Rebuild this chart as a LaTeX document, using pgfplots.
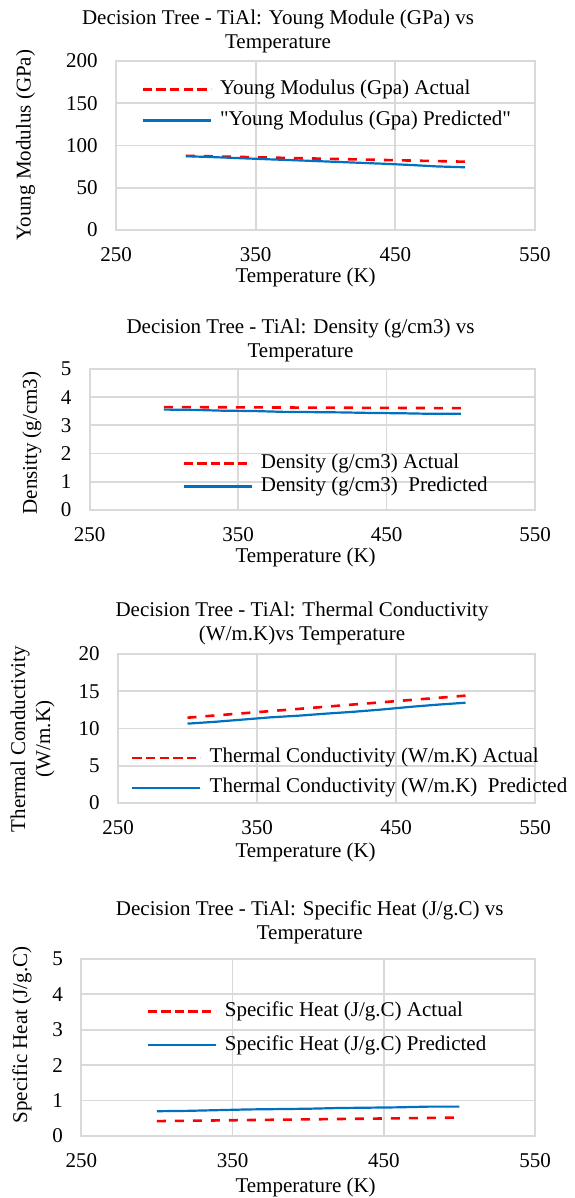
\documentclass[border=0pt]{standalone}
\usepackage{fontspec}
\setmainfont{Liberation Serif}[Ligatures=TeXOff]
\usepackage{pgfplots}
\pgfplotsset{compat=1.18}

\definecolor{xlred}{RGB}{255,0,0}
\definecolor{xlblue}{RGB}{0,112,192}
\definecolor{gridgray}{RGB}{217,217,217}

\newcommand{\chartfont}{\rmfamily\fontsize{10.5}{12}\selectfont}

\pgfplotsset{
  panel/.style={
    scale only axis,
    anchor=south west,
    xmin=250, xmax=550,
    xtick={250,350,450,550},
    ymin=0,
    grid=major,
    major grid style={gridgray, line width=0.9pt},
    axis line style={gridgray, line width=1pt},
    major tick length=0pt,
    tick style={draw=none},
    /pgf/number format/assume math mode=true,
    ticklabel style={font=\chartfont},
    xticklabel style={anchor=center, inner sep=0pt, yshift=-12.5pt},
    yticklabel style={anchor=east, inner sep=0pt, xshift=-9pt},
    scaled ticks=false,
    legend cell align=left,
    legend style={draw=none, fill=none, inner sep=0pt, anchor=north west,
      column sep=4pt, font=\chartfont,
      nodes={inner sep=0pt, text height=7.5pt, text depth=2.5pt}},
    legend image code/.code={\draw[#1] (0pt,0pt) -- (34pt,0pt);},
  },
  actual/.style={color=xlred, line width=1.3pt, dash pattern=on 4.5pt off 4.5pt, no markers,
    legend image post style={dash pattern=on 4.7pt off 2.1pt}},
  predicted/.style={color=xlblue, line width=1.1pt, no markers},
}

% Young modulus (GPa)
\pgfplotstableread{
T    act   pred
300  87.8  87.3
320  87.1  86.2
340  86.4  84.9
360  85.7  83.6
380  85.0  82.4
400  84.3  81.1
420  83.6  79.8
440  82.9  78.5
460  82.2  77.0
480  81.5  75.2
500  80.8  74.2
}\youngdata

% Density (g/cm3)
\pgfplotstableread{
T    act    pred
300  3.650  3.56
320  3.646  3.55
340  3.642  3.52
360  3.638  3.51
380  3.634  3.48
400  3.630  3.47
420  3.626  3.46
440  3.622  3.44
460  3.618  3.43
480  3.614  3.41
500  3.610  3.41
}\densitydata

% Thermal conductivity (W/m.K)
\pgfplotstableread{
T    act    pred
300  11.45  10.65
320  11.75  10.90
340  12.04  11.20
360  12.34  11.50
380  12.63  11.72
400  12.93  12.00
420  13.23  12.25
440  13.52  12.55
460  13.82  12.90
480  14.11  13.20
500  14.41  13.46
}\conddata

% Specific heat (J/g.C)
\pgfplotstableread{
T    act   pred
300  0.42  0.70
320  0.43  0.71
340  0.44  0.73
360  0.45  0.75
380  0.46  0.76
400  0.47  0.77
420  0.48  0.79
440  0.49  0.80
460  0.50  0.81
480  0.51  0.83
500  0.52  0.83
}\heatdata

\begin{document}
\begin{tikzpicture}[font=\chartfont]
\path[use as bounding box] (0,0) rectangle (287pt,599pt);

% ---- Young modulus ----
\begin{axis}[panel, at={(58pt,484pt)}, width=209.5pt, height=84.5pt,
  ymax=200, ytick={0,50,100,150,200},
  legend style={at={(0.0597,0.893)}, row sep=5.5pt}]
  \addplot[actual] table[x=T, y=act] {\youngdata};
  \addlegendentry{Young Modulus (Gpa) Actual}
  \addplot[predicted] table[x=T, y=pred] {\youngdata};
  \addlegendentry{"Young Modulus (Gpa) Predicted"}
\end{axis}
\node[align=center] at (139pt,583.5pt) {Decision Tree - TiAl: Young Module (GPa) vs\\Temperature};
\node at (152.8pt,460.5pt) {Temperature (K)};
\node[rotate=90] at (12.8pt,526.5pt) {Young Modulus (GPa)};

% ---- Density ----
\begin{axis}[panel, at={(44.85pt,344pt)}, width=222.65pt, height=70.5pt,
  ymax=5, ytick={0,1,2,3,4,5},
  legend style={at={(0.207,0.404)}, row sep=1.5pt}]
  \addplot[actual] table[x=T, y=act] {\densitydata};
  \addlegendentry{Density (g/cm3) Actual}
  \addplot[predicted] table[x=T, y=pred] {\densitydata};
  \addlegendentry{Density (g/cm3)~ Predicted}
\end{axis}
\node[align=center] at (150.25pt,429pt) {Decision Tree - TiAl: Density (g/cm3) vs\\Temperature};
\node at (152.8pt,320.5pt) {Temperature (K)};
\node[rotate=90] at (15.9pt,377.5pt) {Densitty (g/cm3)};

% ---- Thermal conductivity ----
\begin{axis}[panel, at={(59pt,197.5pt)}, width=208.5pt, height=74.5pt,
  ymax=20, ytick={0,5,10,15,20},
  legend style={at={(0.0305,0.3725)}, row sep=5pt}]
  \addplot[actual] table[x=T, y=act] {\conddata};
  \addlegendentry{Thermal Conductivity (W/m.K) Actual}
  \addplot[predicted] table[x=T, y=pred] {\conddata};
  \addlegendentry{Thermal Conductivity (W/m.K)~ Predicted}
\end{axis}
\node[align=center] at (151pt,287.5pt) {Decision Tree - TiAl: Thermal Conductivity\\(W/m.K)vs Temperature};
\node at (152.8pt,173pt) {Temperature (K)};
\node[rotate=90, align=center, font=\rmfamily\fontsize{10.5}{12.5}\selectfont] at (16.25pt,229.5pt) {Thermal Conductivity\\(W/m.K)};

% ---- Specific heat ----
\begin{axis}[panel, at={(40.65pt,31pt)}, width=226.85pt, height=88.5pt,
  ymax=5, ytick={0,1,2,3,4,5},
  legend style={at={(0.1426,0.763)}, row sep=7pt}]
  \addplot[actual] table[x=T, y=act] {\heatdata};
  \addlegendentry{Specific Heat (J/g.C) Actual}
  \addplot[predicted] table[x=T, y=pred] {\heatdata};
  \addlegendentry{Specific Heat (J/g.C) Predicted}
\end{axis}
\node[align=center] at (154.85pt,138pt) {Decision Tree - TiAl: Specific Heat (J/g.C) vs\\Temperature};
\node[inner sep=0pt] at (152.8pt,5.5pt) {Temperature (K)};
\node[rotate=90] at (11pt,81.5pt) {Specific Heat (J/g.C)};
\end{tikzpicture}
\end{document}
